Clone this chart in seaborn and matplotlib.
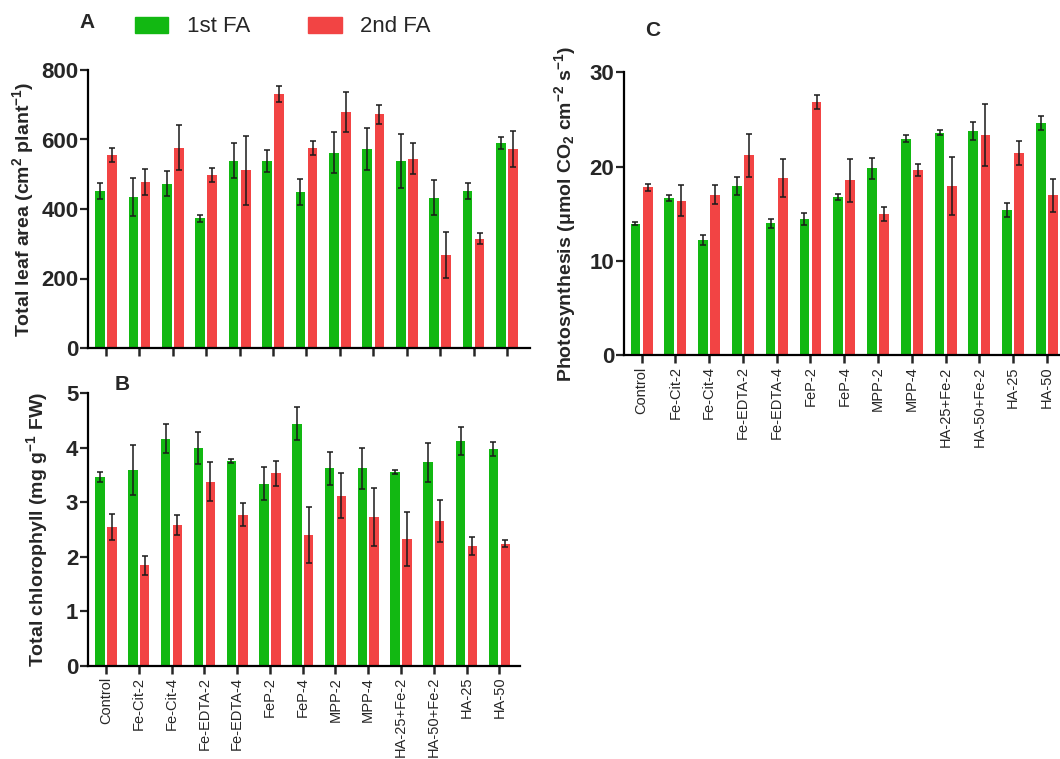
import numpy as np
import pandas as pd
import matplotlib
matplotlib.use("Agg")
import matplotlib.pyplot as plt
import seaborn as sns

treatments = ["Control", "Fe-Cit-2", "Fe-Cit-4", "Fe-EDTA-2", "Fe-EDTA-4", "FeP-2", "FeP-4",
              "MPP-2", "MPP-4", "HA-25+Fe-2", "HA-50+Fe-2", "HA-25", "HA-50"]
applications = ["1st FA", "2nd FA"]

# A - total leaf area (cm2 plant-1)
leaf_1st = [453, 435, 473, 373, 539, 538, 449, 562, 573, 539, 433, 453, 589]
leaf_1st_err = [23, 55, 37, 10, 50, 31, 37, 59, 61, 78, 50, 23, 17]
leaf_2nd = [555, 477, 576, 497, 511, 731, 576, 679, 672, 545, 268, 315, 573]
leaf_2nd_err = [20, 37, 65, 20, 99, 24, 20, 58, 27, 44, 67, 16, 51]

# B - total chlorophyll (mg g-1 FW)
chl_1st = [3.47, 3.60, 4.17, 4.00, 3.76, 3.34, 4.44, 3.62, 3.62, 3.56, 3.73, 4.13, 3.97]
chl_1st_err = [0.09, 0.46, 0.26, 0.29, 0.04, 0.30, 0.30, 0.31, 0.37, 0.04, 0.35, 0.26, 0.13]
chl_2nd = [2.55, 1.84, 2.58, 3.38, 2.77, 3.53, 2.40, 3.12, 2.73, 2.33, 2.66, 2.20, 2.24]
chl_2nd_err = [0.24, 0.18, 0.19, 0.35, 0.21, 0.23, 0.52, 0.41, 0.54, 0.50, 0.39, 0.17, 0.06]

# C - photosynthesis (umol CO2 cm-2 s-1)
ps_1st = [13.96, 16.64, 12.19, 17.95, 13.99, 14.49, 16.78, 19.82, 22.97, 23.60, 23.78, 15.41, 24.66]
ps_1st_err = [0.2, 0.3, 0.53, 1.0, 0.5, 0.63, 0.35, 1.13, 0.39, 0.25, 1.0, 0.7, 0.75]
ps_2nd = [17.81, 16.40, 17.03, 21.20, 18.83, 26.82, 18.55, 15.02, 19.68, 17.95, 23.39, 21.48, 16.96]
ps_2nd_err = [0.4, 1.66, 1.0, 2.3, 2.0, 0.74, 2.3, 0.74, 0.64, 3.1, 3.3, 1.28, 1.73]

colors = {"1st FA": "#12b812", "2nd FA": "#f24444"}


def make_df(v1, e1, v2, e2):
    return pd.DataFrame({
        "treatment": treatments * 2,
        "app": ["1st FA"] * len(treatments) + ["2nd FA"] * len(treatments),
        "value": list(v1) + list(v2),
        "err": list(e1) + list(e2),
    })


sns.set_style("ticks")
plt.rcParams["font.family"] = ["Liberation Sans", "DejaVu Sans"]
plt.rcParams["mathtext.fontset"] = "custom"
plt.rcParams["mathtext.rm"] = "Liberation Sans:bold"
plt.rcParams["mathtext.it"] = "Liberation Sans:bold"
plt.rcParams["mathtext.bf"] = "Liberation Sans:bold"

fig = plt.figure(figsize=(10.6, 7.59), dpi=100)
W, H = 1060, 759


def px_axes(left, top, right, bottom):
    return fig.add_axes([left / W, 1 - bottom / H, (right - left) / W, (bottom - top) / H])


def panel(ax, df, ylim, yticks, ylabel, xlim, labelx, show_xlabels):
    sns.barplot(data=df, x="treatment", y="value", hue="app", hue_order=applications,
                order=treatments, palette=colors, width=0.72, gap=0.2, errorbar=None,
                saturation=1, linewidth=0, legend=False, ax=ax)
    # error bars (mean +/- SE) on top of the seaborn bars
    for cont, app in zip(ax.containers, applications):
        sub = df[df["app"] == app].set_index("treatment").loc[treatments]
        xs = [b.get_x() + b.get_width() / 2 for b in cont]
        ax.errorbar(xs, sub["value"], yerr=sub["err"], fmt="none", ecolor="#1a1a1a",
                    elinewidth=1.1, capsize=2.2, capthick=1.1, zorder=3)
    ax.set_ylim(*ylim)
    ax.set_yticks(yticks)
    ax.set_xlim(*xlim)
    ax.set_xlabel("")
    ax.set_ylabel(ylabel, fontsize=14, fontweight="bold", va="center")
    ax.yaxis.set_label_coords(labelx, 0.5)
    sns.despine(ax=ax)
    for s in ["left", "bottom"]:
        ax.spines[s].set_linewidth(1.6)
        ax.spines[s].set_color("black")
    ax.tick_params(axis="y", length=6, width=1.6, pad=1, labelsize=16)
    ax.tick_params(axis="x", length=6, width=1.8, pad=2, labelsize=10.5)
    for t in ax.get_yticklabels():
        t.set_fontweight("bold")
    ax.set_xticks(range(len(treatments)))
    if show_xlabels:
        ax.set_xticklabels(treatments, rotation=90, va="top", ha="center")
    else:
        ax.set_xticklabels([])


ax_a = px_axes(88, 70, 530, 348)
panel(ax_a, make_df(leaf_1st, leaf_1st_err, leaf_2nd, leaf_2nd_err), (0, 800),
      [0, 200, 400, 600, 800], r"Total leaf area (cm$^{2}$ plant$^{-1}$)",
      (-0.54, 12.69), (23 - 88) / 442, False)

ax_b = px_axes(88, 393.3, 520, 665.7)
panel(ax_b, make_df(chl_1st, chl_1st_err, chl_2nd, chl_2nd_err), (0, 5),
      [0, 1, 2, 3, 4, 5], r"Total chlorophyll (mg g$^{-1}$ FW)",
      (-0.55, 12.63), (37 - 88) / 432, True)

ax_c = px_axes(624, 72.3, 1075, 355.3)
panel(ax_c, make_df(ps_1st, ps_1st_err, ps_2nd, ps_2nd_err), (0, 30),
      [0, 10, 20, 30], r"Photosynthesis ($\mu$mol CO$_{2}$ cm$^{-2}$ s$^{-1}$)",
      (-0.52, 12.83), (565 - 624) / 451, True)

fig.text(87 / W, 1 - 22 / H, "A", fontsize=15, fontweight="bold", ha="center", va="center")
fig.text(122 / W, 1 - 385 / H, "B", fontsize=15, fontweight="bold", ha="center", va="center")
fig.text(653 / W, 1 - 31 / H, "C", fontsize=15, fontweight="bold", ha="center", va="center")

handles = [plt.Rectangle((0, 0), 1, 1, color=colors[a]) for a in applications]
fig.legend(handles, applications, loc="center left", bbox_to_anchor=(135 / W, 1 - 27 / H),
           ncol=2, frameon=False, fontsize=16, handlelength=1.5, handleheight=0.75,
           handletextpad=0.85, columnspacing=2.6, borderpad=0, borderaxespad=0)

fig.savefig("out.png", dpi=100)
